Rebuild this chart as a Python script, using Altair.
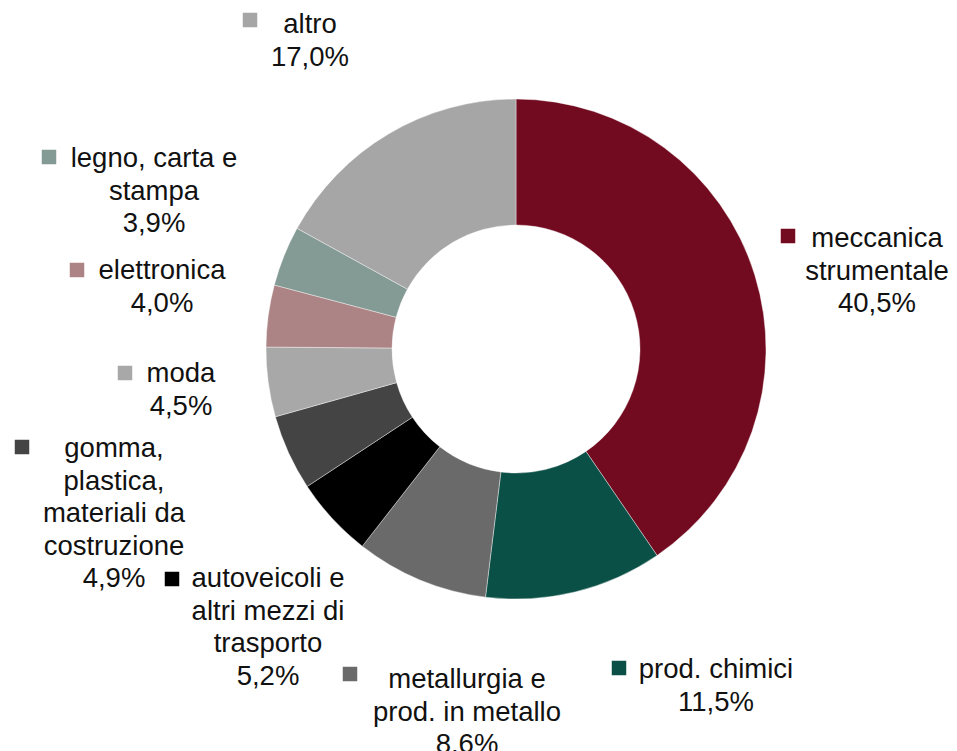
import altair as alt
import pandas as pd

# ---- data ----
categories = [
    "meccanica strumentale",
    "prod. chimici",
    "metallurgia e prod. in metallo",
    "autoveicoli e altri mezzi di trasporto",
    "gomma, plastica, materiali da costruzione",
    "moda",
    "elettronica",
    "legno, carta e stampa",
    "altro",
]
values = [40.5, 11.5, 8.6, 5.2, 4.9, 4.5, 4.0, 3.9, 17.0]

# ---- styling / layout ----
colors = ["#730B20", "#0B5046", "#6A6A6A", "#000000", "#444444",
          "#A8A8A8", "#AD8485", "#849A94", "#A6A6A6"]
label_lines = [
    "meccanica\nstrumentale",
    "prod. chimici",
    "metallurgia e\nprod. in metallo",
    "autoveicoli e\naltri mezzi di\ntrasporto",
    "gomma,\nplastica,\nmateriali da\ncostruzione",
    "moda",
    "elettronica",
    "legno, carta e\nstampa",
    "altro",
]
OFF = 8  # page margin
label_pos = [(877, 247), (716, 678), (467, 688), (268, 587), (114, 457),
             (181, 382), (162, 279), (154, 167), (310, 33)]
marker_pos = [(788, 236), (619, 668), (350, 674), (172, 579), (22, 447),
              (125, 373), (77, 270), (49, 157), (250, 20)]
CX, CY = 516 - OFF, 349 - OFF
R_OUT, R_IN = 250, 124

def pct(v):
    return f"{v:.1f}".replace(".", ",") + "%"

df = pd.DataFrame({
    "cat": categories,
    "value": values,
    "order": list(range(len(categories))),
    "label": [l + "\n" + pct(v) for l, v in zip(label_lines, values)],
    "lx": [p[0] - OFF for p in label_pos],
    "ly": [p[1] - OFF for p in label_pos],
    "mx": [p[0] - OFF for p in marker_pos],
    "my": [p[1] - OFF for p in marker_pos],
})

color_scale = alt.Scale(domain=categories, range=colors)

arcs = alt.Chart(df).mark_arc(
    outerRadius=R_OUT, innerRadius=R_IN, stroke="#ffffff", strokeWidth=0.4
).encode(
    theta=alt.Theta("value:Q", stack=True),
    order=alt.Order("order:Q", sort="ascending"),
    color=alt.Color("cat:N", scale=color_scale, legend=None),
    x=alt.value(CX),
    y=alt.value(CY),
)

texts = alt.Chart(df).mark_text(
    font="Liberation Sans", fontSize=27.5, lineHeight=32.5, lineBreak="\n",
    align="center", baseline="alphabetic", color="#111111"
).encode(
    x=alt.X("lx:Q", scale=None, axis=None),
    y=alt.Y("ly:Q", scale=None, axis=None),
    text="label:N",
)

markers = alt.Chart(df).mark_square(size=210, opacity=1).encode(
    x=alt.X("mx:Q", scale=None, axis=None),
    y=alt.Y("my:Q", scale=None, axis=None),
    color=alt.Color("cat:N", scale=color_scale, legend=None),
)

chart = alt.layer(arcs, markers, texts).properties(
    width=941, height=743, padding=0,
    autosize=alt.AutoSizeParams(type="none"),
).configure_view(stroke=None)

chart.save("out.html", embed_options={"renderer": "svg", "actions": False})
